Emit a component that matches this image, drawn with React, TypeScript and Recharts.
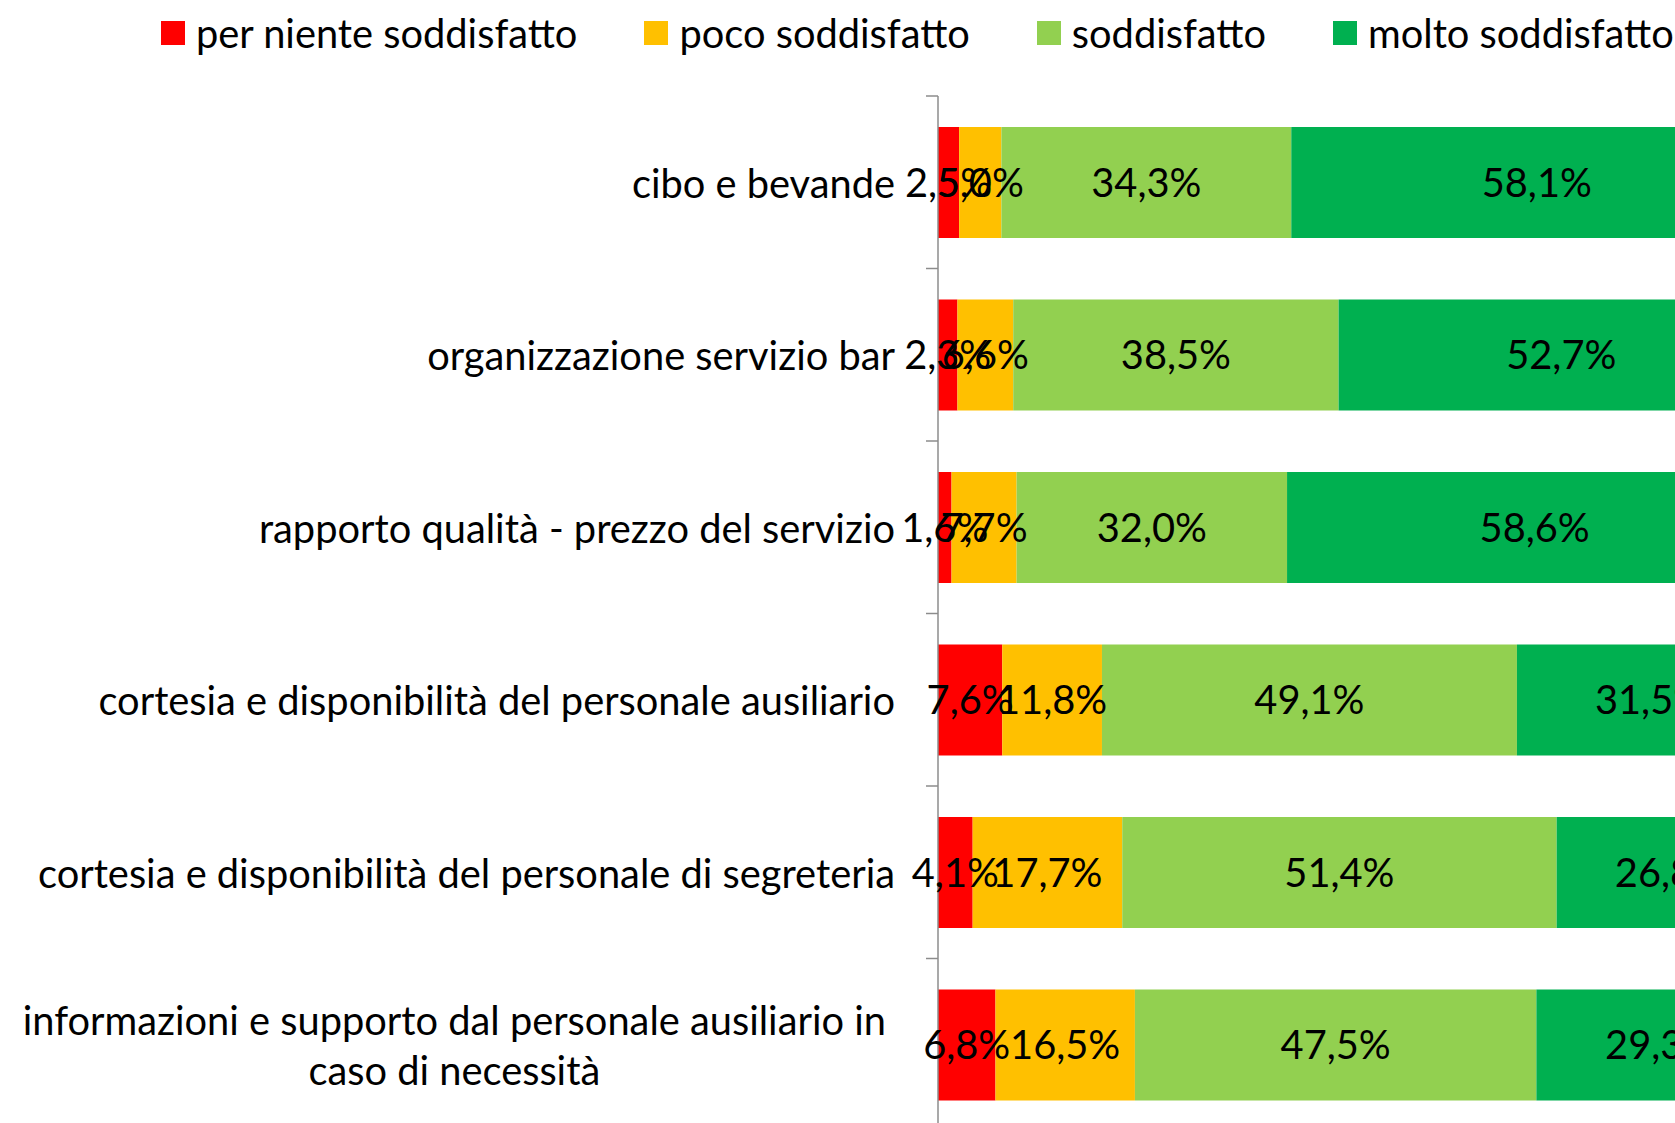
import React from 'react';
import { BarChart, Bar, XAxis, YAxis, LabelList } from 'recharts';

const categories = [
  'cibo e bevande',
  'organizzazione servizio bar',
  'rapporto qualità - prezzo del servizio',
  'cortesia e disponibilità del personale ausiliario',
  'cortesia e disponibilità del personale di segreteria',
  'informazioni e supporto dal personale ausiliario in caso di necessità',
];
const perNiente = [2.5, 2.3, 1.6, 7.6, 4.1, 6.8];
const poco = [5.0, 6.6, 7.7, 11.8, 17.7, 16.5];
const soddisfatto = [34.3, 38.5, 32.0, 49.1, 51.4, 47.5];
const molto = [58.1, 52.7, 58.6, 31.5, 26.8, 29.3];

const seriesNames = ['per niente soddisfatto', 'poco soddisfatto', 'soddisfatto', 'molto soddisfatto'];
const seriesKeys = ['perNiente', 'poco', 'soddisfatto', 'molto'];
const seriesColors = ['#FF0000', '#FFC000', '#92D050', '#00B050'];

const data = categories.map((c, i) => ({
  category: c,
  perNiente: perNiente[i],
  poco: poco[i],
  soddisfatto: soddisfatto[i],
  molto: molto[i],
}));

const FONT = 'Lato, "Noto Sans", sans-serif';
const FONT_SIZE = 39.8;
const AXIS_COLOR = '#8C8C8C';

const CHART_W = 1800;
const CHART_H = 1140;
const MARGIN = { top: 96, right: 16, bottom: 9, left: 0 };
const Y_AXIS_W = 938;
const PLOT_H = CHART_H - MARGIN.top - MARGIN.bottom;
const BAND = PLOT_H / categories.length;

function wrapWords(text: string, maxChars: number): string[] {
  const words = text.split(' ');
  const lines: string[] = [];
  let cur = '';
  for (const w of words) {
    const next = cur ? cur + ' ' + w : w;
    if (next.length > maxChars && cur) {
      lines.push(cur);
      cur = w;
    } else {
      cur = next;
    }
  }
  if (cur) lines.push(cur);
  return lines;
}

let measureCtx: CanvasRenderingContext2D | null = null;
function measure(text: string): number {
  if (typeof document === 'undefined') return text.length * FONT_SIZE * 0.45;
  if (!measureCtx) {
    const c = document.createElement('canvas');
    measureCtx = c.getContext('2d');
  }
  if (!measureCtx) return text.length * FONT_SIZE * 0.45;
  measureCtx.font = `${FONT_SIZE}px ${FONT}`;
  return measureCtx.measureText(text).width;
}

function CategoryTick(props: any) {
  const { x, y, payload } = props;
  const lines = wrapWords(String(payload.value), 52);
  const top = y - BAND / 2;
  const tickLine = (
    <line x1={x - 12} x2={x} y1={top} y2={top} stroke={AXIS_COLOR} strokeWidth={1.5} />
  );
  if (lines.length === 1) {
    return (
      <g>
        {tickLine}
        <text
          x={x - 43}
          y={y}
          textAnchor="end"
          dominantBaseline="central"
          fontFamily={FONT}
          fontSize={FONT_SIZE}
          fill="#000"
        >
          {lines[0]}
        </text>
      </g>
    );
  }
  const blockW = Math.max(...lines.map(measure));
  const cx = x - 52 - blockW / 2;
  const lh = 50;
  return (
    <g>
      {tickLine}
      {lines.map((l, i) => (
        <text
          key={i}
          x={cx}
          y={y + (i - (lines.length - 1) / 2) * lh}
          textAnchor="middle"
          dominantBaseline="central"
          fontFamily={FONT}
          fontSize={FONT_SIZE}
          fill="#000"
        >
          {l}
        </text>
      ))}
    </g>
  );
}

const fmt = (v: any) => Number(v).toFixed(1).replace('.', ',') + '%';

function LegendBox() {
  return (
    <div
      style={{
        position: 'absolute',
        left: 161,
        top: 9,
        display: 'flex',
        alignItems: 'center',
        gap: 67,
        fontFamily: FONT,
        fontSize: FONT_SIZE,
        lineHeight: '48px',
        whiteSpace: 'nowrap',
        color: '#000',
      }}
    >
      {seriesNames.map((n, i) => (
        <div key={n} style={{ display: 'flex', alignItems: 'center', gap: 11 }}>
          <div style={{ width: 24, height: 24, background: seriesColors[i] }} />
          <span>{n}</span>
        </div>
      ))}
    </div>
  );
}

export default function App() {
  return (
    <div
      style={{
        position: 'absolute',
        left: 0,
        top: 0,
        width: 1675,
        height: 1123,
        overflow: 'hidden',
        background: '#fff',
      }}
    >
      <LegendBox />
      <BarChart
        width={CHART_W}
        height={CHART_H}
        data={data}
        layout="vertical"
        margin={MARGIN}
        barSize={111}
      >
        <XAxis type="number" domain={[0, 100]} hide />
        <YAxis
          type="category"
          dataKey="category"
          width={Y_AXIS_W}
          axisLine={{ stroke: AXIS_COLOR, strokeWidth: 1.5 }}
          tickLine={false}
          tickSize={0}
          tickMargin={0}
          tick={<CategoryTick />}
          interval={0}
        />
        {seriesKeys.map((k, i) => (
          <Bar
            key={k}
            dataKey={k}
            name={seriesNames[i]}
            stackId="a"
            fill={seriesColors[i]}
            isAnimationActive={false}
          >
            <LabelList
              dataKey={k}
              position="center"
              formatter={fmt}
              fill="#000"
              fontFamily={FONT}
              fontSize={FONT_SIZE}
            />
          </Bar>
        ))}
      </BarChart>
    </div>
  );
}
